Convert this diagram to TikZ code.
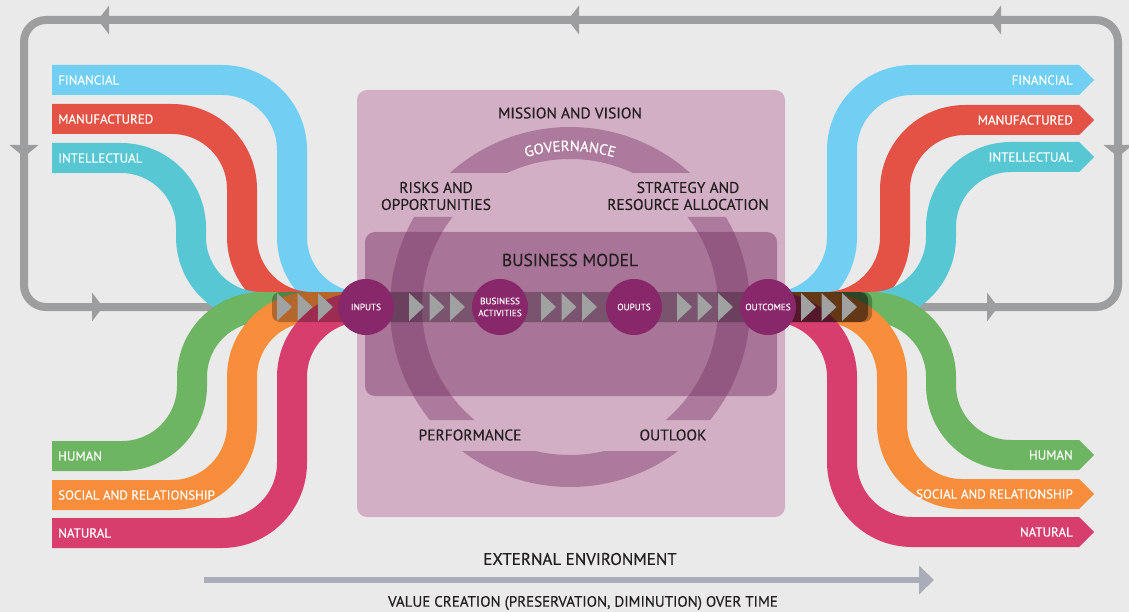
\documentclass[tikz,border=0pt]{standalone}
\usepackage{fontspec}
\setmainfont{PT Sans}[FakeBold=0.3]
\usetikzlibrary{positioning, calc, arrows.meta, decorations.text}

\definecolor{bggrey}{HTML}{EAEAEA}
\definecolor{loopgrey}{HTML}{9D9E9F}
\definecolor{capblue}{HTML}{72CFF4}
\definecolor{capred}{HTML}{E35245}
\definecolor{capteal}{HTML}{57C7D3}
\definecolor{capgreen}{HTML}{6DB562}
\definecolor{caporange}{HTML}{F88D3C}
\definecolor{cappink}{HTML}{D73E6E}
\definecolor{framelilac}{HTML}{D3AFC6}
\definecolor{plum}{RGB}{120,50,100}
\definecolor{stageplum}{HTML}{88276A}
\definecolor{chevgrey}{HTML}{A0A1A1}
\definecolor{inkdark}{HTML}{231F20}
\definecolor{timegrey}{HTML}{A9ADB9}

\pgfdeclarelayer{bg}
\pgfdeclarelayer{ribbons}
\pgfdeclarelayer{boxes}
\pgfdeclarelayer{flow}
\pgfsetlayers{bg,ribbons,boxes,flow,main}

\tikzset{
  ribbon/.style={line width=30pt},
  caplabel/.style={text=white, inner xsep=6pt, inner ysep=0pt, font=\fontsize{13}{15}\selectfont},
  stage/.style={circle, fill=stageplum, minimum size=56pt, inner sep=0pt, text=white, align=center, font=\fontsize{9.2}{12}\selectfont},
  frametext/.style={text=inkdark, align=center, font=\fontsize{15.5}{17}\selectfont},
  chevron/.style={fill=chevgrey},
  looptip/.style={fill=loopgrey},
  timeline/.style={timegrey, line width=5.5pt, -{Triangle[length=15pt, width=28pt]}},
}

\begin{document}
\begin{tikzpicture}[x=1pt, y=-1pt]
\useasboundingbox (0,0) rectangle (1129,612);

% stages of the business model
\node[stage] (inputs) at (366,307) {INPUTS};
\node[stage] (activities) at (500,307) {BUSINESS\\ACTIVITIES};
\node[stage] (outputs) at (634,307) {OUPUTS};
\node[stage] (outcomes) at (768,307) {OUTCOMES};

% capitals coming in
\node[caplabel, anchor=west] (inFin) at (52,80) {FINANCIAL};
\node[caplabel, anchor=west] (inMan) at (52,119) {MANUFACTURED};
\node[caplabel, anchor=west] (inInt) at (52,158) {INTELLECTUAL};
\node[caplabel, anchor=west] (inHum) at (52,456) {HUMAN};
\node[caplabel, anchor=west] (inSoc) at (52,495) {SOCIAL AND RELATIONSHIP};
\node[caplabel, anchor=west] (inNat) at (52,533) {NATURAL};

% capitals going out
\node[caplabel, anchor=east] (outFin) at (1079,80) {FINANCIAL};
\node[caplabel, anchor=east] (outMan) at (1079,120) {MANUFACTURED};
\node[caplabel, anchor=east] (outInt) at (1079,157) {INTELLECTUAL};
\node[caplabel, anchor=east] (outHum) at (1079,455) {HUMAN};
\node[caplabel, anchor=east] (outSoc) at (1079,494) {SOCIAL AND RELATIONSHIP};
\node[caplabel, anchor=east] (outNat) at (1079,532) {NATURAL};

% organisation
\node[frametext] (mission) at (570,113) {MISSION AND VISION};
\node[frametext] (risks) at (436,196) {RISKS AND\\OPPORTUNITIES};
\node[frametext] (strategy) at (688,196) {STRATEGY AND\\RESOURCE ALLOCATION};
\node[frametext, font=\fontsize{17.5}{20}\selectfont] (model) at (570,260) {BUSINESS MODEL};
\node[frametext] (performance) at (470,435) {PERFORMANCE};
\node[frametext] (outlook) at (673,435) {OUTLOOK};

\begin{pgfonlayer}{bg}
  \fill[bggrey] (0,0) rectangle (1129,612);
  \draw[loopgrey, line width=8pt, rounded corners=22pt] (24,20) rectangle (1118,307);
  \foreach \x in {98,568,990}
    \fill[looptip] (\x,20) -- ++(11,-14.5) -- ++(0,29) -- cycle;
  \foreach \x in {103,998}
    \fill[looptip] (\x,307) -- ++(-11,-14.5) -- ++(0,29) -- cycle;
  \foreach \x in {24,1118}
    \fill[looptip] (\x,157) -- ++(-14.5,-12) -- ++(29,0) -- cycle;
\end{pgfonlayer}

\begin{pgfonlayer}{ribbons}
  % into the inputs
  \foreach \nm/\col/\ys/\xv in {inFin/capblue/80/292, inMan/capred/119/242, inInt/capteal/158/191,
      inHum/capgreen/456/192, inSoc/caporange/495/242, inNat/cappink/533/292} {
    \pgfmathsetmacro\sg{sign(307-\ys)}
    \pgfmathsetmacro\rr{min(70,abs(\ys-307)/2)}
    \pgfmathsetmacro\yv{307-\sg*\rr}
    \pgfmathsetmacro\aA{-90*\sg}
    \pgfmathsetmacro\aB{180-90*\sg}
    \draw[ribbon, \col] (\nm.west) -- (\xv-\rr,\ys) arc[start angle=\aA, end angle=0, radius=\rr]
      -- (\xv,\yv) arc[start angle=180, end angle=\aB, radius=\rr] -- (inputs.center);
  }
  % out of the outcomes
  \foreach \nm/\col/\ys/\xv in {outFin/capblue/80/842, outMan/capred/120/895, outInt/capteal/157/941,
      outHum/capgreen/455/941, outSoc/caporange/494/892, outNat/cappink/532/842} {
    \pgfmathsetmacro\sg{sign(307-\ys)}
    \pgfmathsetmacro\rr{min(70,abs(\ys-307)/2)}
    \pgfmathsetmacro\yv{\ys+\sg*\rr}
    \pgfmathsetmacro\aA{90*\sg}
    \pgfmathsetmacro\aB{180+90*\sg}
    \draw[ribbon, \col] (outcomes.center) -- (\xv-\rr,307) arc[start angle=\aA, end angle=0, radius=\rr]
      -- (\xv,\yv) arc[start angle=180, end angle=\aB, radius=\rr] -- (\nm.east);
    \fill[\col] (\nm.east) ++(0,-15) -- ++(15,15) -- ++(-15,15) -- cycle;
  }
\end{pgfonlayer}

\begin{pgfonlayer}{boxes}
  \fill[framelilac, rounded corners=10pt] (357,90) rectangle (785,517);
  \fill[plum, opacity=0.47, rounded corners=10pt] (365,232) rectangle (777,396);
  \begin{scope}
    \clip (357,90) rectangle (785,173) (357,217) rectangle (785,420) (357,451) rectangle (785,517);
    \fill[plum, opacity=0.42, even odd rule] (570,307) circle[radius=180] circle[radius=148];
  \end{scope}
\end{pgfonlayer}

\begin{pgfonlayer}{flow}
  \fill[black, opacity=0.27, rounded corners=8pt] (272,292) rectangle (872,322);
  \fill[black, opacity=0.45, rounded corners=8pt] (780,292) rectangle (868,322);
  \foreach \s in {277,409,541,677,801}
    \foreach \k in {0,1,2}
      \fill[chevron] (\s+20.5*\k,293) -- ++(15,14) -- ++(-15,14) -- cycle;
\end{pgfonlayer}

% governance along the ring
\path[decorate, decoration={text along path, text align=center,
    text={|\fontsize{14.8}{15}\selectfont\color{white}|GOVERNANCE}}]
  (570,307) ++(200:156) arc[start angle=200, end angle=340, radius=156];

% time line
\coordinate (tstart) at (204,580);
\coordinate (tend) at (934,580);
\draw[timeline] (tstart) -- (tend);
\node[frametext, font=\fontsize{17}{19}\selectfont] (external) at (580,559) {EXTERNAL ENVIRONMENT};
\node[frametext, font=\fontsize{15}{17}\selectfont] (valuetime) at (583,603) {VALUE CREATION (PRESERVATION, DIMINUTION) OVER TIME};
\end{tikzpicture}
\end{document}
